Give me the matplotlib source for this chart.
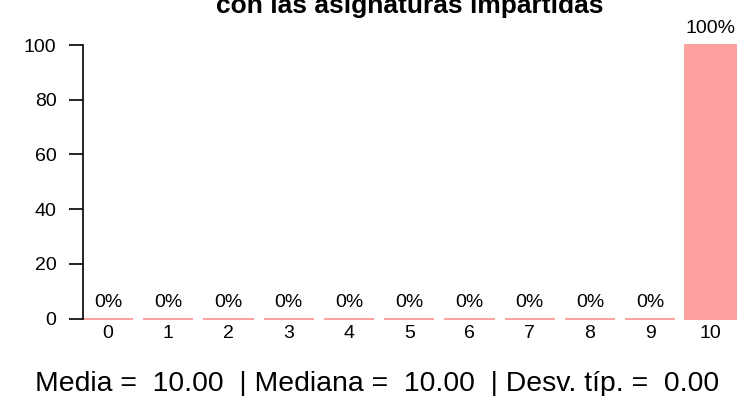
import matplotlib
matplotlib.use("Agg")
import matplotlib.pyplot as plt

categories = ["0", "1", "2", "3", "4", "5", "6", "7", "8", "9", "10"]
percentages = [0, 0, 0, 0, 0, 0, 0, 0, 0, 0, 100]
yticks = [0, 20, 40, 60, 80, 100]
title = "con las asignaturas impartidas"
summary = "Media =  10.00  | Mediana =  10.00  | Desv. típ. =  0.00"

plt.rcParams['font.family'] = ['Liberation Sans', 'DejaVu Sans']

W, H = 740, 396
fig = plt.figure(figsize=(W / 100, H / 100), dpi=100)
left_px, right_px, top_px, bot_px = 83, 735.6, 45, 318.5
ax = fig.add_axes([left_px / W, (H - bot_px) / H, (right_px - left_px) / W, (bot_px - top_px) / H])

pink = "#FFA0A0"
centers = [0.7 + 1.2 * i for i in range(len(categories))]
ax.bar(centers, percentages, width=1.0, color=pink, edgecolor=pink, linewidth=1.4, clip_on=False)

ax.set_xlim(0.2, 13.2)
ax.set_ylim(0, 100)

for s in ["top", "right", "bottom"]:
    ax.spines[s].set_visible(False)
ax.spines["left"].set_bounds(0, 100)
ax.spines["left"].set_linewidth(1.2)

ax.set_yticks(yticks)
ax.set_yticklabels([str(v) for v in yticks])
ax.tick_params(axis="y", length=10, width=1.2, pad=9, labelsize=14)

ax.set_xticks(centers)
ax.set_xticklabels(categories)
ax.tick_params(axis="x", length=0, pad=5, labelsize=14)

for c, v in zip(centers, percentages):
    ax.annotate(f"{v}%", (c, v), xytext=(0, 8.5), textcoords="offset points",
                ha="center", va="baseline", fontsize=14, annotation_clip=False)

fig.text(410 / W, 1 - 13 / H, title, ha="center", va="baseline",
         fontsize=19, fontweight="bold")
fig.text(377 / W, 5 / H, summary, ha="center", va="baseline", fontsize=20.4)

fig.savefig("out.png", dpi=100)
